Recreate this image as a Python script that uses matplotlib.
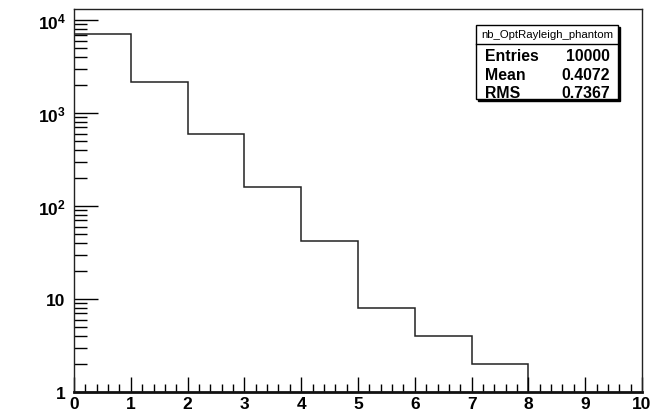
import matplotlib
matplotlib.use("Agg")
import matplotlib.pyplot as plt
import numpy as np
from matplotlib.ticker import FixedLocator, NullFormatter
from matplotlib.patches import Rectangle

# Data
bin_edges = [0, 1, 2, 3, 4, 5, 6, 7, 8]
counts = [7044, 2150, 590, 160, 42, 8, 4, 2]
hist_name = "nb_OptRayleigh_phantom"
stat_labels = ["Entries", "Mean", "RMS"]
stat_values = ["10000", "0.4072", "0.7367"]
x_ticks = [0, 1, 2, 3, 4, 5, 6, 7, 8, 9, 10]
y_major = [1, 10, 100, 1000, 10000]
y_labels = ["1", "10", r"$\mathbf{10^{2}}$", r"$\mathbf{10^{3}}$", r"$\mathbf{10^{4}}$"]

W, H = 654, 414
fig = plt.figure(figsize=(W / 100, H / 100), dpi=100)
plt.rcParams['font.family'] = ['Liberation Sans', 'DejaVu Sans']
plt.rcParams['mathtext.fontset'] = 'custom'
plt.rcParams['mathtext.bf'] = 'Liberation Sans:bold'
plt.rcParams['mathtext.rm'] = 'Liberation Sans'

L, R, T, B = 74, 642, 10, 393
ax = fig.add_axes([L / W, 1 - B / H, (R - L) / W, (B - T) / H])

ax.stairs(counts, bin_edges, baseline=1, color='#222222', linewidth=1.1)
ax.set_yscale('log')
ax.set_xlim(0, 10)
ax.set_ylim(1, 10 ** (4 + 11 / 92))

ax.xaxis.set_major_locator(FixedLocator(x_ticks))
ax.xaxis.set_minor_locator(FixedLocator([i * 0.2 for i in range(51) if i % 5 != 0]))
ax.set_xticklabels([str(v) for v in x_ticks])

ax.yaxis.set_major_locator(FixedLocator(y_major))
minors = [m * 10 ** d for d in range(0, 5) for m in range(2, 10)]
ax.yaxis.set_minor_locator(FixedLocator(minors))
ax.yaxis.set_minor_formatter(NullFormatter())
ax.set_yticklabels(y_labels)

for lab in ax.get_xticklabels() + ax.get_yticklabels():
    lab.set_fontweight('bold')
    lab.set_fontsize(12.5)

ax.tick_params(axis='x', which='major', direction='in', length=11, width=1, pad=3, top=False)
ax.tick_params(axis='x', which='minor', direction='in', length=6, width=1, top=False)
ax.tick_params(axis='y', which='major', direction='in', length=17, width=1, pad=6, right=False)
ax.tick_params(axis='y', which='minor', direction='in', length=9, width=1, right=False)

for s in ['top', 'right', 'left']:
    ax.spines[s].set_linewidth(1.0)
    ax.spines[s].set_color('#222222')
ax.spines['bottom'].set_linewidth(2.0)
ax.spines['bottom'].set_color('#111111')

# Stats box (figure pixel coords)
def fx(px):
    return px / W

def fy(py):
    return 1 - py / H

bx0, bx1, by0, by1, bsep = 476, 618, 26, 100, 45
fig.patches.append(Rectangle((fx(bx0 + 2), fy(by1 + 2)), fx(bx1 - bx0), (by1 - by0) / H,
                             transform=fig.transFigure, facecolor='black', edgecolor='black', lw=1))
fig.patches.append(Rectangle((fx(bx0), fy(by1)), fx(bx1 - bx0), (by1 - by0) / H,
                             transform=fig.transFigure, facecolor='white', edgecolor='black', lw=1))
fig.lines.append(plt.Line2D([fx(bx0), fx(bx1)], [fy(bsep), fy(bsep)], transform=fig.transFigure,
                            color='black', lw=1))
fig.text(fx((bx0 + bx1) / 2), fy(34.5), hist_name, ha='center', va='center', fontsize=8.2)
rows_y = [57, 75, 93]
for lab, val, yy in zip(stat_labels, stat_values, rows_y):
    fig.text(fx(485), fy(yy), lab, ha='left', va='center', fontsize=11.4, fontweight='bold')
    fig.text(fx(610), fy(yy), val, ha='right', va='center', fontsize=11.4, fontweight='bold')

fig.savefig('out.png', dpi=100)
